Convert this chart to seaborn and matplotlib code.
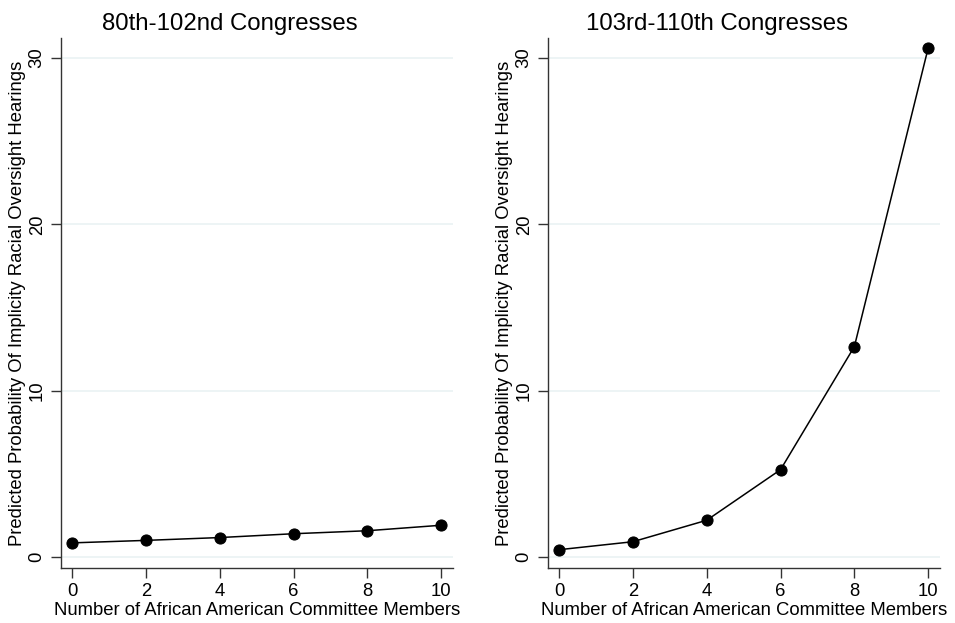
import matplotlib
matplotlib.use("Agg")
import matplotlib.pyplot as plt
import seaborn as sns
import pandas as pd

# Data
members = [0, 2, 4, 6, 8, 10]
early_prob = [0.85, 1.0, 1.17, 1.40, 1.58, 1.91]      # 80th-102nd Congresses
late_prob = [0.44, 0.92, 2.21, 5.25, 12.65, 30.6]      # 103rd-110th Congresses
titles = ["80th-102nd Congresses", "103rd-110th Congresses"]
xlabel = "Number of African American Committee Members"
ylabel = "Predicted Probability Of Implicity Racial Oversight Hearings"
yticks = [0, 10, 20, 30]
xticks = [0, 2, 4, 6, 8, 10]

sns.set_theme(style="white")
plt.rcParams['font.family'] = ['Liberation Sans', 'DejaVu Sans']

fig = plt.figure(figsize=(9.55, 6.23), dpi=100)
W, H = 955, 623
axes_px = [(61, 38, 453, 568), (548, 38, 940, 568)]

series = [early_prob, late_prob]
for i, (x0, y0, x1, y1) in enumerate(axes_px):
    ax = fig.add_axes([x0 / W, (H - y1) / H, (x1 - x0) / W, (y1 - y0) / H])
    df = pd.DataFrame({"members": members, "prob": series[i]})
    for yv in yticks:
        ax.axhline(yv, color="#eaf2f3", lw=1.2, zorder=0)
    sns.lineplot(data=df, x="members", y="prob", ax=ax, color="black",
                 lw=1.1, marker="o", markersize=8, markeredgecolor="black",
                 markerfacecolor="black", zorder=3)
    ax.set_xlim(-0.3, 10.32)
    ax.set_ylim(-0.66, 31.2)
    ax.set_xticks(xticks)
    ax.set_yticks(yticks)
    ax.set_xticklabels([str(t) for t in xticks], fontsize=13.3, color="black")
    ax.set_yticklabels([str(t) for t in yticks], fontsize=13.3, color="black",
                       rotation=90, va="center")
    ax.tick_params(axis="both", which="major", length=7, width=1, color="#333333",
                   left=True, bottom=True)
    ax.tick_params(axis="y", pad=4)
    ax.tick_params(axis="x", pad=4)
    for s in ["top", "right"]:
        ax.spines[s].set_visible(False)
    for s in ["left", "bottom"]:
        ax.spines[s].set_color("#333333")
        ax.spines[s].set_linewidth(1.0)
    ax.set_xlabel(xlabel, fontsize=13.3, color="black", labelpad=1)
    ax.set_ylabel(ylabel, fontsize=13.3, color="black", labelpad=2)
    ax.set_title(titles[i], fontsize=17.3, color="black", x=0.43, pad=6)
    ax.grid(False)

fig.savefig("out.png", dpi=100, facecolor="white")
